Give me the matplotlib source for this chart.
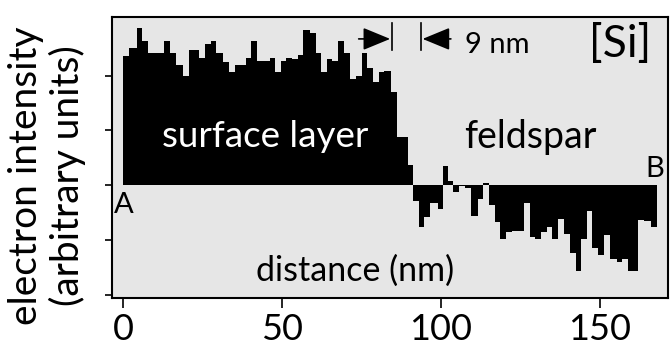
import matplotlib.pyplot as plt
import numpy as np

plt.rcParams['font.family'] = ['Lato', 'DejaVu Sans']

# step edges of the line scan (nm) and Si signal in each step (arb. units, 0 = bulk)
edges = [0.0, 1.9, 4.4, 6.0, 7.8, 13.0, 14.8, 16.5, 18.9, 20.7, 24.0, 25.8, 27.6, 29.2,
         31.5, 33.4, 35.1, 38.6, 40.3, 42.0, 46.2, 47.8, 49.6, 51.3, 53.1, 54.9, 56.5,
         58.7, 60.6, 62.2, 64.1, 65.8, 67.7, 69.4, 71.4, 73.3, 75.1, 76.8, 78.6, 80.4,
         82.1, 84.3, 86.0, 89.5, 91.3, 93.1, 94.7, 96.5, 98.9, 100.7, 102.3, 103.8,
         105.7, 107.5, 109.3, 111.7, 113.2, 115.0, 116.9, 118.5, 120.4, 122.2, 126.2,
         127.9, 129.5, 131.3, 133.2, 134.9, 136.7, 138.8, 140.6, 142.4, 144.1, 145.9,
         147.6, 149.5, 151.3, 153.1, 155.3, 157.0, 158.9, 162.1, 163.8, 165.9, 167.8]
intensity = [2.36, 2.50, 2.87, 2.63, 2.42, 2.63, 2.41, 2.20, 1.99, 2.46, 2.33, 2.57, 2.63,
             2.42, 2.25, 2.07, 2.20, 2.33, 2.63, 2.26, 2.33, 2.07, 2.26, 2.33, 2.30, 2.37,
             2.83, 2.77, 2.41, 2.07, 2.30, 2.26, 2.63, 2.41, 1.93, 2.00, 2.41, 2.13, 1.89,
             2.07, 2.09, 1.70, 0.88, 0.37, -0.29, -0.76, -0.58, -0.32, -0.43, 0.35, 0.07,
             -0.12, -0.02, -0.06, -0.56, -0.26, 0.04, -0.37, -0.67, -0.99, -0.86, -0.83,
             -0.33, -0.94, -0.99, -0.86, -0.77, -0.99, -0.61, -0.90, -1.24, -1.57, -0.99,
             -0.47, -1.14, -1.28, -0.91, -1.34, -1.40, -1.34, -1.57, -0.64, -0.66, -0.76]

xticks = [0, 50, 100, 150]
yticks = [-2, -1, 0, 1, 2]

# width of the surface layer transition
layer_edge = 84.6
layer_width = 9

fig = plt.figure(figsize=(6.7, 3.51), dpi=100)
ax = fig.add_axes([112 / 670, 1 - 298 / 351, 556 / 670, 281 / 351])
ax.set_facecolor('#e6e6e6')

ax.stairs(intensity, edges, baseline=0, fill=True, color='black')

ax.set_xlim(-3.5, 171.4)
ax.set_ylim(-2.06, 3.07)
ax.set_xticks(xticks)
ax.set_yticks(yticks)
ax.tick_params(axis='x', direction='out', length=7, width=1.2, labelsize=26, pad=4)
ax.tick_params(axis='y', direction='out', length=5, width=1.2, labelleft=False)
for s in ax.spines.values():
    s.set_linewidth(1.5)

# labels inside the plot
ax.text(44.6, 0.88, 'surface layer', color='white', fontsize=26.5, ha='center', va='center')
ax.text(128, 0.88, 'feldspar', color='black', fontsize=27, ha='center', va='center')
ax.text(73, -1.57, 'distance (nm)', color='black', fontsize=24.5, ha='center', va='center')
ax.text(0.2, -0.37, 'A', fontsize=21, ha='center', va='center')
ax.text(167.3, 0.29, 'B', fontsize=21, ha='center', va='center')
ax.text(156.4, 2.56, '[Si]', fontsize=32, ha='center', va='center')
ax.text(107.5, 2.56, '%d nm' % layer_width, fontsize=21, ha='left', va='center')

# bracket showing the transition width
ya = 2.67
arrow = dict(arrowstyle='-|>,head_length=0.85,head_width=0.35', color='black',
             lw=1.2, mutation_scale=20, shrinkA=0, shrinkB=0)
ax.plot([layer_edge, layer_edge], [2.47, 2.96], color='black', lw=1.2)
ax.plot([layer_edge + layer_width] * 2, [2.47, 2.96], color='black', lw=1.2)
ax.annotate('', xy=(layer_edge - 0.6, ya), xytext=(layer_edge - 10.5, ya), arrowprops=arrow)
ax.annotate('', xy=(layer_edge + layer_width + 0.6, ya), xytext=(layer_edge + layer_width + 9.5, ya),
            arrowprops=arrow)

fig.text(0.07, 0.5, 'electron intensity\n(arbitrary units)', rotation=90, fontsize=28,
         ha='center', va='center', linespacing=1.15)

fig.savefig('out.png', dpi=100)
